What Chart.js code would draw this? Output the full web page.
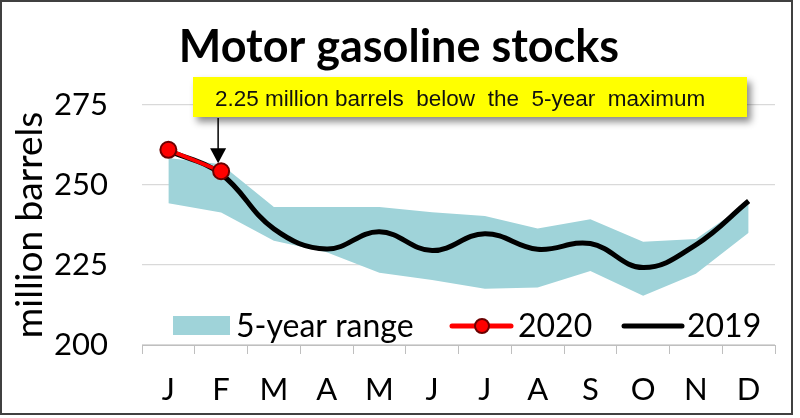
<!DOCTYPE html>
<html>
<head>
<meta charset="utf-8">
<script src="https://cdn.jsdelivr.net/npm/chart.js@4.4.1/dist/chart.umd.min.js"></script>
<style>
html, body { margin: 0; padding: 0; background: #fff; }
#wrap { position: relative; width: 800px; height: 418px; }
</style>
</head>
<body>
<div id="wrap"><canvas id="stocksChart"></canvas></div>
<script>
// Monthly motor gasoline stocks, million barrels
const months = ['J', 'F', 'M', 'A', 'M', 'J', 'J', 'A', 'S', 'O', 'N', 'D'];
const range5Low = [244.3, 241.4, 232.6, 229.0, 222.6, 220.3, 217.6, 218.0, 223.1, 215.4, 222.3, 235.1];
const range5High = [258.4, 256.5, 243.1, 243.1, 243.1, 241.5, 240.3, 236.4, 239.3, 232.3, 233.1, 244.5];
const stocks2019 = [260.8, 253.4, 236.3, 230.0, 235.4, 229.5, 234.8, 229.9, 231.7, 224.2, 231.3, 245.0];
const stocks2020 = [261.0, 254.3, null, null, null, null, null, null, null, null, null, null];
const yTicks = [200, 225, 250, 275];

const noteText = '2.25 million barrels  below  the  5-year  maximum';
const bandColor = '#9fd3d9';

// Title, note box with arrow, in-plot legend and outer frame
const decorPlugin = {
    id: 'decor',
    afterDatasetsDraw(chart) {
        const ctx = chart.ctx;
        ctx.save();

        // Legend inside the plot
        ctx.fillStyle = bandColor;
        ctx.fillRect(173, 316, 57, 19);
        ctx.fillStyle = '#000';
        ctx.font = '32px Lato';
        ctx.textBaseline = 'alphabetic';
        ctx.textAlign = 'left';
        ctx.fillText('5-year range', 236, 337);

        ctx.strokeStyle = '#ff0000';
        ctx.lineWidth = 5;
        ctx.lineCap = 'round';
        ctx.beginPath();
        ctx.moveTo(452, 326);
        ctx.lineTo(511, 326);
        ctx.stroke();
        ctx.beginPath();
        ctx.arc(482, 326, 7, 0, Math.PI * 2);
        ctx.fillStyle = '#ff0000';
        ctx.fill();
        ctx.lineWidth = 2;
        ctx.strokeStyle = '#6b0000';
        ctx.stroke();
        ctx.fillStyle = '#000';
        ctx.fillText('2020', 518, 337);

        ctx.strokeStyle = '#000';
        ctx.lineWidth = 5;
        ctx.beginPath();
        ctx.moveTo(624, 326);
        ctx.lineTo(682, 326);
        ctx.stroke();
        ctx.fillText('2019', 687, 337);
        ctx.restore();
    },
    afterDraw(chart) {
        const ctx = chart.ctx;
        ctx.save();

        // Title
        ctx.fillStyle = '#000';
        ctx.font = 'bold 45px Lato';
        ctx.textAlign = 'center';
        ctx.textBaseline = 'alphabetic';
        ctx.fillText('Motor gasoline stocks', 399, 62);

        // Arrow to the February 2020 point
        const pt = chart.getDatasetMeta(0).data[1];
        const ax = pt.x - 3;
        const tipY = pt.y - 8;
        ctx.strokeStyle = '#000';
        ctx.lineWidth = 1.5;
        ctx.beginPath();
        ctx.moveTo(ax, 118);
        ctx.lineTo(ax, tipY - 12);
        ctx.stroke();
        ctx.beginPath();
        ctx.moveTo(ax - 8, tipY - 15);
        ctx.lineTo(ax + 8, tipY - 15);
        ctx.lineTo(ax, tipY);
        ctx.closePath();
        ctx.fillStyle = '#000';
        ctx.fill();

        // Yellow note with soft shadow
        ctx.save();
        ctx.shadowColor = 'rgba(0,0,0,0.45)';
        ctx.shadowBlur = 7;
        ctx.shadowOffsetX = 4;
        ctx.shadowOffsetY = 5;
        ctx.fillStyle = '#ffff00';
        ctx.fillRect(193, 77, 554, 40);
        ctx.restore();
        ctx.fillStyle = '#111';
        ctx.font = '22.5px "Liberation Sans"';
        ctx.textAlign = 'left';
        ctx.fillText(noteText, 215, 106);

        // Outer frame
        ctx.strokeStyle = '#404040';
        ctx.lineWidth = 2;
        ctx.strokeRect(1, 1, 791, 413);
        ctx.restore();
    }
};

const ctx = document.getElementById('stocksChart').getContext('2d');
const stocksChart = new Chart(ctx, {
    type: 'line',
    data: {
        labels: months,
        datasets: [
            {
                label: '2020',
                data: stocks2020,
                borderColor: '#ff0000',
                borderWidth: 4,
                tension: 0.4,
                pointRadius: 8,
                pointBackgroundColor: '#ff0000',
                pointBorderColor: '#6b0000',
                pointBorderWidth: 2,
                fill: false
            },
            {
                label: '2019',
                data: stocks2019,
                borderColor: '#000000',
                borderWidth: 5,
                tension: 0.4,
                pointRadius: 0,
                fill: false
            },
            {
                label: '5-year range',
                data: range5High,
                borderWidth: 0,
                borderColor: 'rgba(0,0,0,0)',
                backgroundColor: bandColor,
                pointRadius: 0,
                tension: 0,
                fill: 3
            },
            {
                label: 'low',
                data: range5Low,
                borderWidth: 0,
                borderColor: 'rgba(0,0,0,0)',
                pointRadius: 0,
                tension: 0,
                fill: false
            }
        ]
    },
    options: {
        responsive: true,
        maintainAspectRatio: false,
        animation: false,
        layout: {
            padding: { top: 105, right: 25, bottom: 0, left: 0 }
        },
        plugins: {
            legend: { display: false },
            tooltip: { enabled: false },
            title: { display: false }
        },
        scales: {
            x: {
                offset: true,
                grid: {
                    offset: true,
                    drawOnChartArea: false,
                    drawTicks: true,
                    tickLength: 9,
                    color: '#bfbfbf'
                },
                border: { display: true, color: '#bfbfbf', width: 1 },
                ticks: {
                    color: '#000',
                    font: { family: 'Lato', size: 31 },
                    padding: 17,
                    maxRotation: 0,
                    autoSkip: false
                },
                afterFit(scale) { scale.height = 73; }
            },
            y: {
                min: 200,
                max: 275,
                afterBuildTicks(scale) {
                    scale.ticks = yTicks.map(v => ({ value: v }));
                },
                grid: {
                    color: '#d9d9d9',
                    lineWidth: 1.2,
                    drawTicks: false
                },
                border: { display: false },
                ticks: {
                    color: '#000',
                    font: { family: 'Lato', size: 31 },
                    padding: 34
                },
                title: {
                    display: true,
                    text: 'million barrels',
                    color: '#000',
                    font: { family: 'Lato', size: 37 },
                    padding: { top: 8, bottom: 0 }
                },
                afterFit(scale) { scale.width = 142; }
            }
        }
    },
    plugins: [decorPlugin]
});
</script>
</body>
</html>
